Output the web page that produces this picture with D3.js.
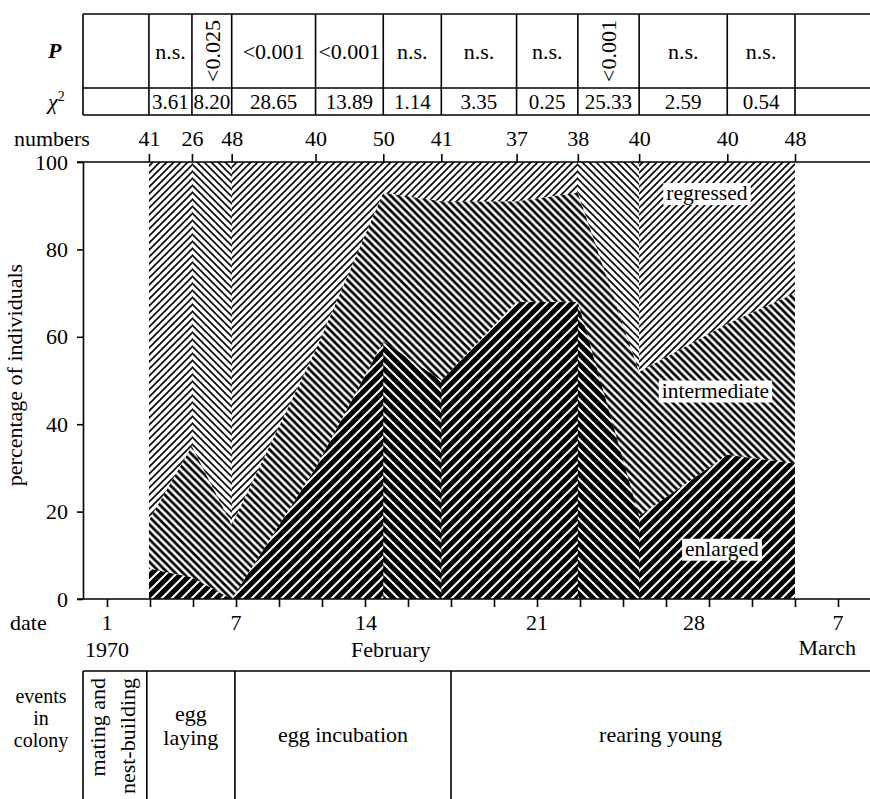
<!DOCTYPE html>
<html>
<head>
<meta charset="utf-8">
<style>
  body { margin: 0; background: #fff; }
  svg text { font-family: "Liberation Serif", "Times New Roman", serif; font-size: 22px; fill: #000; }
</style>
</head>
<body>
<div id="container"></div>
<script src="https://cdn.jsdelivr.net/npm/d3@7"></script>
<script>
// sampling dates (day of February 1970) and number of birds in each sample
const sampleDays = [2.95, 4.95, 6.8, 10.7, 13.85, 16.55, 20.05, 22.9, 25.75, 29.85, 33];
const sampleSizes = [41, 26, 48, 40, 50, 41, 37, 38, 40, 40, 48];

// percentage of individuals in each state
const enlarged     = [7, 5, 0, 30, 59, 50, 68, 68, 19, 33, 31];
const intermediate = [11, 30, 17, 27, 34, 41, 23, 25, 33, 30, 39];
const regressed    = [82, 65, 83, 43, 7, 9, 9, 7, 48, 37, 30];

// chi-square tests between consecutive samples
const pValues   = ["n.s.", "<0.025", "<0.001", "<0.001", "n.s.", "n.s.", "n.s.", "<0.001", "n.s.", "n.s."];
const chiSquare = ["3.61", "8.20", "28.65", "13.89", "1.14", "3.35", "0.25", "25.33", "2.59", "0.54"];

// axes
const percentTicks = [0, 20, 40, 60, 80, 100];
const dayTicks = d3.range(1, 36, 2);
// date labels as placed in the figure (day 35 = 7 March)
const dateLabels = [["1", 1], ["7", 7], ["14", 13.05], ["21", 21], ["28", 28.3], ["7", 35]];
const monthLabels = [["1970", 1], ["February", 14.2], ["March", 34.5]];

// events in colony: phase boundaries (days)
const phaseBounds = [2.85, 6.95, 17];
const phaseNames = [["mating and", "nest-building"], ["egg", "laying"], ["egg incubation"], ["rearing young"]];

const width = 870;
const height = 799;
const frameLeft = 83;

const svg = d3.select("#container").append("svg")
    .attr("width", width)
    .attr("height", height);

const x = d3.scaleLinear().domain([1, 35]).range([107, 838]);
const y = d3.scaleLinear().domain([0, 100]).range([599, 162]);

// hatch patterns, p = horizontal period of the stripes
const defs = svg.append("defs");
function hatch(id, p, ink, dir, inverse) {
    const pat = defs.append("pattern")
        .attr("id", id)
        .attr("patternUnits", "userSpaceOnUse")
        .attr("width", p)
        .attr("height", p);
    pat.append("rect").attr("width", p).attr("height", p).attr("fill", inverse ? "#000" : "#fff");
    const d = dir === "/"
        ? `M${-p / 2},${p / 2}L${p / 2},${-p / 2}M0,${p}L${p},0M${p / 2},${1.5 * p}L${1.5 * p},${p / 2}`
        : `M${-p / 2},${p / 2}L${p / 2},${1.5 * p}M0,0L${p},${p}M${p / 2},${-p / 2}L${1.5 * p},${p / 2}`;
    pat.append("path")
        .attr("d", d)
        .attr("stroke", inverse ? "#fff" : "#000")
        .attr("stroke-width", ink);
}
hatch("reg-up", 7, 1.6, "/");
hatch("reg-down", 7, 1.6, "\\");
hatch("int", 7.5, 2.7, "\\");
hatch("enl-up", 10, 2, "/", true);
hatch("enl-down", 10, 2, "\\", true);

// stacked layers
const rows = sampleDays.map((d, i) => ({
    day: d, enlarged: enlarged[i], intermediate: intermediate[i], regressed: regressed[i]
}));
const series = d3.stack().keys(["enlarged", "intermediate", "regressed"])(rows);
const area = d3.area()
    .x(d => x(d.data.day))
    .y0(d => y(d[0]))
    .y1(d => y(d[1]));

const layers = svg.append("g");
const styles = {
    enlarged: { up: "enl-up", down: "enl-down", edge: s => s.map(d => d[1]) },
    intermediate: { up: "int", down: "int", edge: s => s.map(d => d[1]) },
    regressed: { up: "reg-up", down: "reg-down", edge: s => s.map(d => d[0]) }
};
series.forEach(s => {
    const st = styles[s.key];
    layers.append("path").attr("d", area(s)).attr("fill", `url(#${st.up})`);
    // where the boundary falls the hatching is turned the other way
    const edge = st.edge(s);
    for (let i = 0; i < s.length - 1; i++) {
        if (edge[i] - edge[i + 1] > 6 && st.down !== st.up) {
            layers.append("path").attr("d", area(s.slice(i, i + 2))).attr("fill", `url(#${st.down})`);
        }
    }
});

// labels inside the layers
const areaLabels = [["regressed", 28.9, 91.3], ["intermediate", 29.3, 46.1], ["enlarged", 29.6, 9.9]];
areaLabels.forEach(([text, day, pct]) => {
    const g = svg.append("g");
    const t = g.append("text")
        .attr("x", x(day))
        .attr("y", y(pct))
        .attr("text-anchor", "middle")
        .style("font-size", "21.5px")
        .text(text);
    const b = t.node().getBBox();
    g.insert("rect", "text")
        .attr("x", b.x - 3)
        .attr("y", b.y + 2)
        .attr("width", b.width + 6)
        .attr("height", b.height - 2)
        .attr("fill", "#fff");
});

function line(x1, y1, x2, y2) {
    svg.append("line")
        .attr("x1", x1).attr("y1", y1).attr("x2", x2).attr("y2", y2)
        .attr("stroke", "#000").attr("stroke-width", 1.6);
}
function cleanAxis(g) {
    g.attr("font-size", null).attr("font-family", null);
    g.selectAll("line, path").attr("stroke-width", 1.6);
}

// y axis
svg.append("g")
    .attr("transform", `translate(${frameLeft},0)`)
    .call(d3.axisLeft(y).tickValues(percentTicks).tickSize(6).tickPadding(9).tickSizeOuter(0))
    .call(cleanAxis);
line(frameLeft - 6, y(100), width, y(100));
line(frameLeft - 6, y(0), width, y(0));

svg.append("text")
    .attr("transform", `translate(22,375) rotate(-90)`)
    .attr("text-anchor", "middle")
    .text("percentage of individuals");

// numbers along the top
svg.append("g")
    .attr("transform", `translate(0,${y(100)})`)
    .call(d3.axisTop(x).tickValues(sampleDays).tickSize(8).tickPadding(8)
        .tickFormat((d, i) => sampleSizes[i]))
    .call(cleanAxis)
    .call(g => g.select(".domain").remove());
svg.append("text").attr("x", 14).attr("y", 146).text("numbers");

// date axis
svg.append("g")
    .attr("transform", `translate(0,${y(0)})`)
    .call(d3.axisBottom(x).tickValues(dayTicks).tickSize(8).tickFormat(""))
    .call(cleanAxis)
    .call(g => g.select(".domain").remove());
svg.append("text").attr("x", 10).attr("y", 630).text("date");
svg.append("g").selectAll("text")
    .data(dateLabels)
    .join("text")
    .attr("x", d => x(d[1]))
    .attr("y", 630)
    .attr("text-anchor", "middle")
    .text(d => d[0]);
svg.append("g").selectAll("text")
    .data(monthLabels)
    .join("text")
    .attr("x", d => x(d[1]))
    .attr("y", d => d[0] === "March" ? 655 : 657)
    .attr("text-anchor", "middle")
    .text(d => d[0]);

// P and chi-square table
const tTop = 14, tMid = 88, tBottom = 115;
[tTop, tMid, tBottom].forEach(v => line(frameLeft, v, width, v));
line(frameLeft, tTop, frameLeft, tBottom);
sampleDays.forEach(d => line(x(d), tTop, x(d), tBottom));

svg.append("text")
    .attr("x", 48).attr("y", 58)
    .style("font-weight", "bold").style("font-style", "italic")
    .text("P");
const chi = svg.append("text").attr("x", 48).attr("y", 109);
chi.append("tspan").style("font-style", "italic").text("χ");
chi.append("tspan").attr("dy", -8).style("font-size", "14px").text("2");

pValues.forEach((p, i) => {
    const x0 = x(sampleDays[i]), x1 = x(sampleDays[i + 1]);
    const cx = (x0 + x1) / 2;
    const t = svg.append("text").attr("text-anchor", "middle").text(p);
    if (t.node().getComputedTextLength() > x1 - x0 - 2) {
        t.attr("transform", `translate(${cx + 8},${(tTop + tMid) / 2}) rotate(-90)`);
    } else {
        t.attr("x", cx).attr("y", 59);
    }
    svg.append("text")
        .attr("x", cx)
        .attr("y", 109)
        .attr("text-anchor", "middle")
        .style("font-size", "21px")
        .text(chiSquare[i]);
});

// events in colony
const eTop = 671;
line(frameLeft, eTop, width, eTop);
const phaseX = [frameLeft, ...phaseBounds.map(x), width];
phaseX.slice(0, -1).forEach(v => line(v, eTop, v, height));

svg.append("g").selectAll("text")
    .data(["events", "in", "colony"])
    .join("text")
    .attr("x", 41)
    .attr("y", (d, i) => 703 + i * 22)
    .attr("text-anchor", "middle")
    .style("font-size", "20px")
    .text(d => d);

phaseNames.forEach((lines, i) => {
    const cx = (phaseX[i] + phaseX[i + 1]) / 2;
    if (i === 0) {
        // narrow first cell: text turned on its side
        lines.forEach((s, j) => {
            svg.append("text")
                .attr("transform", `translate(${phaseX[i] + 22 + j * 30},678) rotate(-90)`)
                .attr("text-anchor", "end")
                .text(s);
        });
    } else if (lines.length === 2) {
        lines.forEach((s, j) => {
            svg.append("text").attr("x", cx).attr("y", 721 + j * 24)
                .attr("text-anchor", "middle").text(s);
        });
    } else {
        svg.append("text").attr("x", cx).attr("y", 742)
            .attr("text-anchor", "middle").text(lines[0]);
    }
});
</script>
</body>
</html>
